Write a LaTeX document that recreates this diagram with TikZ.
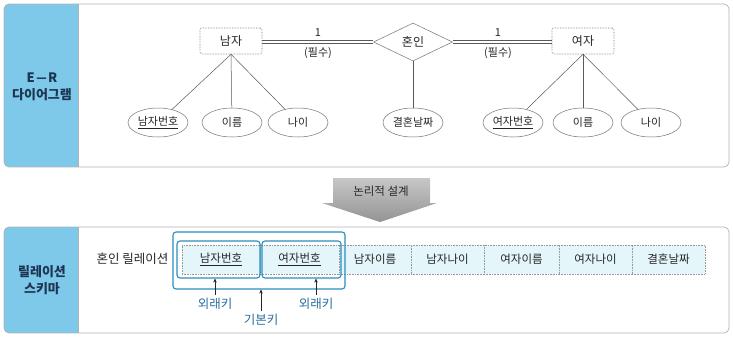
\documentclass[tikz,border=0pt]{standalone}
\usepackage{fontspec}
\setmainfont{Noto Sans CJK KR}
\usetikzlibrary{shapes.geometric,arrows.meta}
\definecolor{panelblue}{HTML}{7EC8E9}
\definecolor{keyblue}{HTML}{2A8DBF}
\definecolor{labelblue}{HTML}{2C6E9E}
\definecolor{navy}{HTML}{1E3552}
\definecolor{cellfill}{HTML}{E4F6FA}
\begin{document}
\begin{tikzpicture}[x=1pt,y=-1pt,
  every node/.style={font=\fontsize{11}{12}\selectfont, text=black!85},
  panel/.style={draw=black!30, line width=0.7pt, rounded corners=5pt},
  entity/.style={draw=black!55, densely dotted, line width=0.6pt, rounded corners=2pt, minimum width=62pt, minimum height=26pt, inner sep=0pt, font=\fontsize{12}{13}\selectfont},
  attr/.style={ellipse, draw=black!55, line width=0.5pt, minimum width=60pt, minimum height=29pt, inner sep=0pt},
  rel/.style={diamond, draw=black!55, line width=0.5pt, minimum width=79pt, minimum height=38pt, aspect=2, inner sep=0pt, font=\fontsize{12}{13}\selectfont},
  conn/.style={draw=black!65, line width=0.5pt},
  cell/.style={draw=black!40, densely dotted, line width=0.6pt, fill=cellfill, minimum height=29pt, inner sep=0pt, font=\fontsize{11.5}{13}\selectfont},
  keybox/.style={draw=keyblue, line width=1.1pt, rounded corners=3pt, inner sep=0pt},
  keylabel/.style={text=labelblue, font=\fontsize{12.5}{14}\selectfont},
  sidelabel/.style={text=navy, font=\bfseries\fontsize{13}{17}\selectfont, align=center},
  keyarrow/.style={draw=black!85, line width=0.6pt, -{Stealth[length=4pt,width=3.5pt]}},
  ]
\useasboundingbox (0,0) rectangle (733,341);

% ---------- top panel ----------
\fill[white, rounded corners=5pt] (4,4) rectangle (729,167);
\begin{scope}
  \clip[rounded corners=5pt] (4,4) rectangle (729,167);
  \fill[panelblue] (4,4) rectangle (78,167);
\end{scope}
\draw[black!30, line width=0.7pt] (78,4) -- (78,167);
\draw[panel] (4,4) rectangle (729,167);
\node[sidelabel] (erlab) at (42,87) {E\kern1pt\scalebox{1.6}[1]{–}\kern1pt R\\다이어그램};

\node[entity] (m) at (231,41) {남자};
\node[entity] (w) at (583,41) {여자};
\node[rel] (r) at (413,42) {혼인};

\draw[conn] ([yshift=-1.3pt]m.east |- 0,42) -- ([yshift=-1.3pt]r.west);
\draw[conn] ([yshift=1.3pt]m.east |- 0,42) -- ([yshift=1.3pt]r.west);
\draw[conn] ([yshift=-1.3pt]r.east) -- ([yshift=-1.3pt]w.west |- 0,42);
\draw[conn] ([yshift=1.3pt]r.east) -- ([yshift=1.3pt]w.west |- 0,42);
\node (c1) at (318,33) {1};
\node (p1) at (318,53) {(필수)};
\node (c2) at (498,33) {1};
\node (p2) at (498,53) {(필수)};

\node[attr] (a1) at (158,122.5) {\underline{남자번호}};
\node[attr] (a2) at (232,122.5) {이름};
\node[attr] (a3) at (298,122.5) {나이};
\node[attr] (a4) at (413,122.5) {결혼날짜};
\node[attr] (a5) at (513,122.5) {\underline{여자번호}};
\node[attr] (a6) at (583,122.5) {이름};
\node[attr] (a7) at (651,122.5) {나이};

\draw[conn] (m.south) -- (a1);
\draw[conn] (m.south) -- (a2);
\draw[conn] (m.south) -- (a3);
\draw[conn] (r.south) -- (a4);
\draw[conn] (w.south) -- (a5);
\draw[conn] (w.south) -- (a6);
\draw[conn] (w.south) -- (a7);

% ---------- block arrow ----------
\shade[top color=black!22, bottom color=black!42]
  (333,178) -- (430,178) -- (430,203) -- (437,203) -- (380,222) -- (322,203) -- (333,203) -- cycle;
\node[font=\fontsize{11.5}{13}\selectfont] (logic) at (381,191) {논리적 설계};

% ---------- bottom panel ----------
\fill[white, rounded corners=5pt] (4,227) rectangle (729,333);
\begin{scope}
  \clip[rounded corners=5pt] (4,227) rectangle (729,333);
  \fill[panelblue] (4,227) rectangle (78,333);
\end{scope}
\draw[black!30, line width=0.7pt] (78,227) -- (78,333);
\draw[panel] (4,227) rectangle (729,333);
\node[sidelabel] (rslab) at (42,280) {릴레이션\\스키마};

\node[anchor=east, font=\fontsize{12.5}{14}\selectfont] (rn) at (172,259) {혼인 릴레이션};

\node[cell, minimum width=78pt] (t1) at (221,259.5) {\underline{남자번호}};
\node[cell, minimum width=79pt] (t2) at (299.5,259.5) {\underline{여자번호}};
\node[cell, minimum width=72pt] (t3) at (375,259.5) {남자이름};
\node[cell, minimum width=73pt] (t4) at (447.5,259.5) {남자나이};
\node[cell, minimum width=75pt] (t5) at (521.5,259.5) {여자이름};
\node[cell, minimum width=73pt] (t6) at (595.5,259.5) {여자나이};
\node[cell, minimum width=73pt] (t7) at (668.5,259.5) {결혼날짜};

\node[keybox, minimum width=83pt, minimum height=37pt] (k1) at (218.5,259.5) {};
\node[keybox, minimum width=79pt, minimum height=37pt] (k2) at (301.5,259.5) {};
\node[keybox, minimum width=172pt, minimum height=57pt] (pk) at (259,260.5) {};

\node[keylabel] (f1) at (215,304) {외래키};
\node[keylabel] (f2) at (316,304) {외래키};
\node[keylabel] (bk) at (261,320) {기본키};

\draw[keyarrow] (f1.north) -- (f1.north |- k1.south);
\draw[keyarrow] (f2.north) -- (f2.north |- k2.south);
\draw[keyarrow] (bk.north) -- (bk.north |- pk.south);
\end{tikzpicture}
\end{document}
